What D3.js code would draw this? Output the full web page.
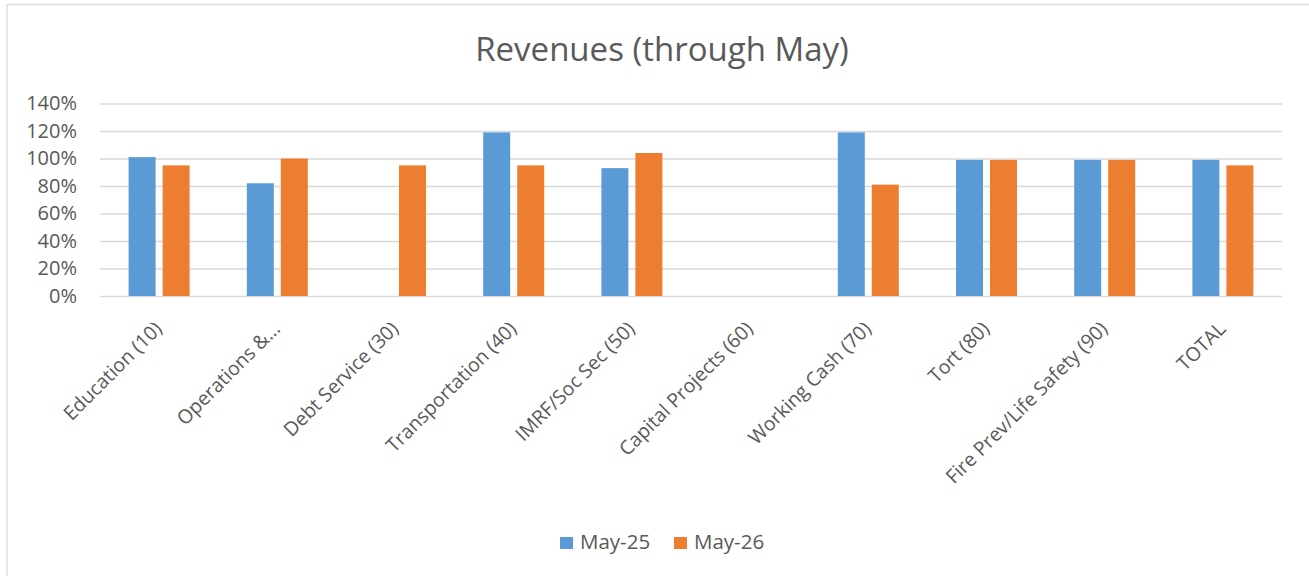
<!DOCTYPE html>
<html>
<head>
<meta charset="utf-8">
<script src="https://cdn.jsdelivr.net/npm/d3@7"></script>
<style>
  body { margin: 0; background: #fff; overflow: hidden; }
  text { font-family: "Open Sans", sans-serif; fill: #595959; }
</style>
</head>
<body>
<div id="chart"></div>
<script>
// chart data
let categories = ["Education (10)", "Operations &...", "Debt Service (30)", "Transportation (40)",
  "IMRF/Soc Sec (50)", "Capital Projects (60)", "Working Cash (70)", "Tort (80)",
  "Fire Prev/Life Safety (90)", "TOTAL"];
let seriesNames = ["May-25", "May-26"];
let may25 = [1.01, 0.82, null, 1.19, 0.93, null, 1.19, 0.99, 0.99, 0.99];
let may26 = [0.95, 1.00, 0.95, 0.95, 1.04, null, 0.81, 0.99, 0.99, 0.95];
let yTicks = [0, 0.2, 0.4, 0.6, 0.8, 1.0, 1.2, 1.4];
let colors = ["#5B9BD5", "#ED7D31"];

//positional parameters
let svgWidth = 1309;
let svgHeight = 576;
let plotLeft = 100;
let plotRight = 1282;
let plotTop = 103.5;
let plotBottom = 296;

let svg = d3.select("#chart")
  .append("svg")
  .attr("width", svgWidth)
  .attr("height", svgHeight)
  .style("display", "block");

//outer border (right and bottom edges fall outside the picture)
svg.append("rect")
  .attr("x", 7)
  .attr("y", 4.5)
  .attr("width", 1320)
  .attr("height", 600)
  .attr("fill", "none")
  .attr("stroke", "#D9D9D9")
  .attr("stroke-width", 1.3);

//title
svg.append("text")
  .attr("x", 662)
  .attr("y", 61)
  .attr("text-anchor", "middle")
  .style("font-size", "33px")
  .text("Revenues (through May)");

//scales
let xScale = d3.scaleBand()
  .domain(categories)
  .range([plotLeft, plotRight]);

let xInner = d3.scaleBand()
  .domain(seriesNames)
  .range([xScale.bandwidth() / 2 - 30.5, xScale.bandwidth() / 2 + 30.5])
  .paddingInner(0.206);

let yScale = d3.scaleLinear()
  .domain([0, 1.4])
  .range([plotBottom, plotTop]);

//gridlines and y labels
let yAxis = d3.axisLeft(yScale)
  .tickValues(yTicks)
  .tickFormat(d3.format(".0%"))
  .tickSize(-(plotRight - plotLeft))
  .tickPadding(23);

let yAxisGroup = svg.append("g")
  .attr("transform", `translate(${plotLeft},0)`)
  .call(yAxis);
yAxisGroup.select(".domain").remove();
yAxisGroup.selectAll("line")
  .attr("stroke", "#D9D9D9")
  .attr("stroke-width", 1.3);
yAxisGroup.selectAll("text")
  .style("font-size", "20px")
  .attr("fill", "#595959")
  .attr("font-family", "Open Sans");

//bars
let seriesData = [may25, may26];
seriesData.forEach(function(values, s) {
  svg.append("g")
    .selectAll("rect")
    .data(values.map(function(v, i) { return { cat: categories[i], v: v }; })
      .filter(function(d) { return d.v !== null; }))
    .join("rect")
    .attr("x", function(d) { return xScale(d.cat) + xInner(seriesNames[s]); })
    .attr("y", function(d) { return yScale(d.v); })
    .attr("width", xInner.bandwidth())
    .attr("height", function(d) { return yScale(0) - yScale(d.v); })
    .attr("fill", colors[s]);
});

//x labels
let xAxis = d3.axisBottom(xScale).tickSize(0).tickPadding(0);
let xAxisGroup = svg.append("g")
  .attr("transform", `translate(0,${plotBottom})`)
  .call(xAxis);
xAxisGroup.select(".domain").remove();
xAxisGroup.selectAll("text")
  .attr("text-anchor", "end")
  .attr("dy", 0)
  .attr("y", 0)
  .attr("transform", "translate(4,34) rotate(-45)")
  .style("font-size", "19.5px")
  .attr("fill", "#595959")
  .attr("font-family", "Open Sans");

//legend
let legend = svg.append("g");
let legendX = [560, 674];
seriesNames.forEach(function(name, s) {
  legend.append("rect")
    .attr("x", legendX[s])
    .attr("y", 537)
    .attr("width", 13)
    .attr("height", 12)
    .attr("fill", colors[s]);
  legend.append("text")
    .attr("x", legendX[s] + 20)
    .attr("y", 549)
    .style("font-size", "20.5px")
    .text(name);
});
</script>
</body>
</html>
